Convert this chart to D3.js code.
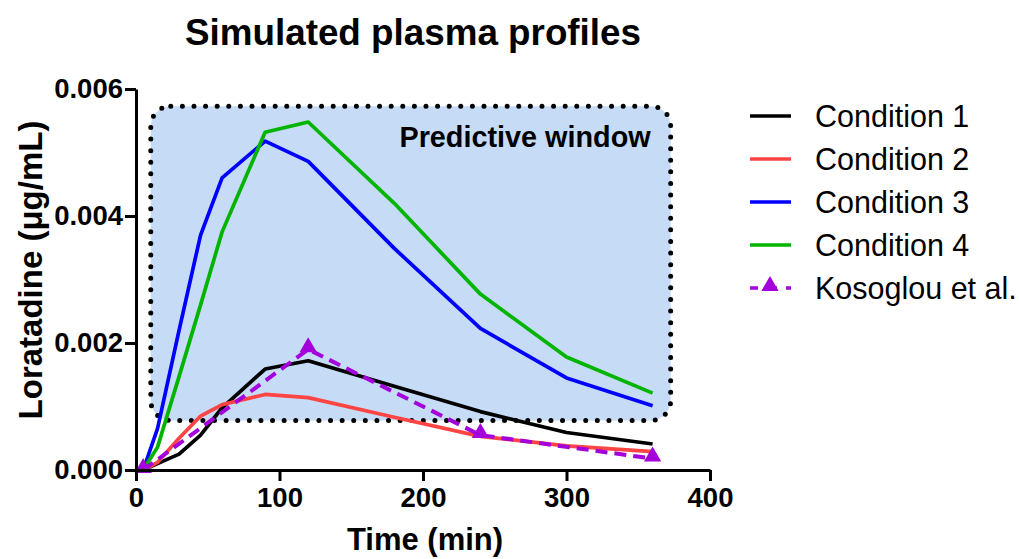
<!DOCTYPE html>
<html>
<head>
<meta charset="utf-8">
<script src="https://cdn.jsdelivr.net/npm/d3@7"></script>
<style>
  body { margin: 0; background: #fff; }
  svg { font-family: "Liberation Sans", Arial, sans-serif; }
  .axis path, .axis line { stroke: #000; stroke-width: 3px; }
  .axis text { font-size: 27.5px; font-weight: bold; fill: #000; }
</style>
</head>
<body>
<svg width="1019" height="559"></svg>
<script>
// sample times (min) and simulated concentrations (ug/mL)
var times = [5, 15, 30, 45, 60, 90, 120, 180, 240, 300, 360];
var cond1 = [0, 0.0001, 0.00025, 0.00055, 0.00098, 0.00159, 0.00172, 0.00132, 0.00092, 0.00059, 0.00041];
var cond2 = [0, 0.00012, 0.0005, 0.00085, 0.00103, 0.00119, 0.00114, 0.00083, 0.00053, 0.00038, 0.00029];
var cond3 = [0, 0.00065, 0.0022, 0.0037, 0.0046, 0.00518, 0.00486, 0.00349, 0.00223, 0.00145, 0.00101];
var cond4 = [0, 0.00036, 0.00147, 0.0026, 0.00375, 0.00532, 0.00548, 0.0042, 0.00277, 0.00178, 0.00121];

// observed data (Kosoglou et al.)
var kosTimes = [5, 120, 240, 360];
var kosValues = [0, 0.0019, 0.00055, 0.00018];

var xTicks = [0, 100, 200, 300, 400];
var yTicks = [0, 0.002, 0.004, 0.006];
var seriesNames = ["Condition 1", "Condition 2", "Condition 3", "Condition 4", "Kosoglou et al."];
var colors = ["#000000", "#ff4444", "#0000ff", "#00b400", "#a300dc"];

// predictive window, in data units
var windowTime = [10.3, 372.6];
var windowConc = [0.00078, 0.00573];

var svg = d3.select("svg");
var x = d3.scaleLinear().domain([0, 400]).range([136, 710]);
var y = d3.scaleLinear().domain([0, 0.006]).range([470, 89]);

/* predictive window box */
var wx0 = x(windowTime[0]), wx1 = x(windowTime[1]),
    wy0 = y(windowConc[1]), wy1 = y(windowConc[0]);
svg.append("rect")
    .attr("x", wx0).attr("y", wy0)
    .attr("width", wx1 - wx0).attr("height", wy1 - wy0)
    .attr("rx", 20).attr("ry", 20)
    .attr("fill", "#c6dcf6")
    .attr("stroke", "#000")
    .attr("stroke-width", 5)
    .attr("stroke-linecap", "round")
    .attr("stroke-dasharray", "0 11.6");

svg.append("text")
    .attr("x", wx1 - 20)
    .attr("y", wy0 + 41)
    .attr("text-anchor", "end")
    .style("font-size", "28.8px")
    .style("font-weight", "bold")
    .text("Predictive window");

/* lines */
var line = d3.line()
    .x(function (d) { return x(d.t); })
    .y(function (d) { return y(d.v); });

var sims = [cond1, cond2, cond3, cond4].map(function (vals, i) {
    return {
        id: seriesNames[i],
        color: colors[i],
        values: vals.map(function (v, j) { return {t: times[j], v: v}; })
    };
});

svg.selectAll(".sim")
    .data(sims)
    .enter().append("path")
    .attr("class", "sim")
    .attr("d", function (d) { return line(d.values); })
    .attr("fill", "none")
    .attr("stroke", function (d) { return d.color; })
    .attr("stroke-width", 3.7)
    .attr("stroke-linejoin", "round");

var kos = kosValues.map(function (v, j) { return {t: kosTimes[j], v: v}; });

svg.append("path")
    .datum(kos)
    .attr("d", line)
    .attr("fill", "none")
    .attr("stroke", colors[4])
    .attr("stroke-width", 4)
    .attr("stroke-dasharray", "12 7");

var tri = d3.symbol().type(d3.symbolTriangle).size(130);
svg.selectAll(".kos")
    .data(kos)
    .enter().append("path")
    .attr("class", "kos")
    .attr("d", tri)
    .attr("transform", function (d) { return "translate(" + x(d.t) + "," + (y(d.v) - 2) + ")"; })
    .attr("fill", colors[4]);

/* axes */
svg.append("g")
    .attr("class", "axis")
    .attr("transform", "translate(0," + y(0) + ")")
    .call(d3.axisBottom(x).tickValues(xTicks).tickSize(11).tickSizeOuter(0).tickPadding(5))
    .selectAll("text").attr("dy", "0.75em");

svg.append("g")
    .attr("class", "axis")
    .attr("transform", "translate(" + x(0) + ",0)")
    .call(d3.axisLeft(y).tickValues(yTicks).tickFormat(d3.format(".3f")).tickSize(11).tickSizeOuter(0).tickPadding(2));

/* titles */
svg.append("text")
    .attr("x", 413).attr("y", 45)
    .attr("text-anchor", "middle")
    .style("font-size", "36.8px")
    .style("font-weight", "bold")
    .text("Simulated plasma profiles");

svg.append("text")
    .attr("x", 425).attr("y", 550)
    .attr("text-anchor", "middle")
    .style("font-size", "31px")
    .style("font-weight", "bold")
    .text("Time (min)");

svg.append("text")
    .attr("transform", "translate(42," + 270 + ") rotate(-90)")
    .attr("text-anchor", "middle")
    .style("font-size", "33px")
    .style("font-weight", "bold")
    .text("Loratadine (μg/mL)");

/* legend */
var legend = svg.selectAll(".legend")
    .data(seriesNames)
    .enter().append("g")
    .attr("class", "legend")
    .attr("transform", function (d, i) { return "translate(748," + (116 + i * 43) + ")"; });

legend.append("line")
    .attr("x1", 2).attr("x2", 43)
    .attr("stroke", function (d, i) { return colors[i]; })
    .attr("stroke-width", 3.7)
    .attr("stroke-dasharray", function (d, i) { return i === 4 ? "8 9 10 9 8" : null; });

legend.filter(function (d, i) { return i === 4; })
    .append("path")
    .attr("d", tri)
    .attr("transform", "translate(22,-2)")
    .attr("fill", colors[4]);

legend.append("text")
    .attr("x", 67)
    .attr("y", 11)
    .style("font-size", "30.5px")
    .text(function (d) { return d; });
</script>
</body>
</html>
